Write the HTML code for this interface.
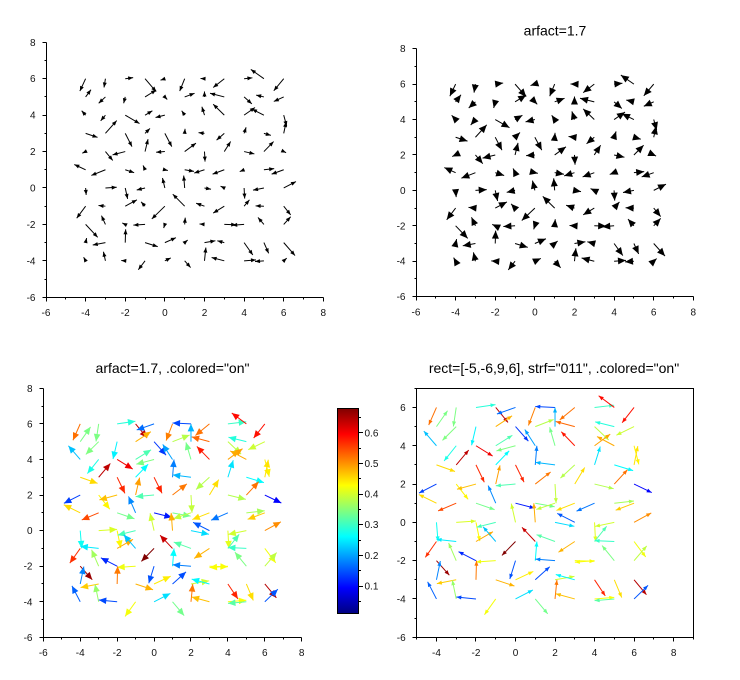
<!DOCTYPE html>
<html><head><meta charset="utf-8"><style>
html,body{margin:0;padding:0;background:#fff;}
svg{display:block;}
text{font-family:"Liberation Sans",Arial,sans-serif;font-size:10px;fill:#111;}
.t{font-size:14px;fill:#000;}
.m{text-anchor:middle;}
.e{text-anchor:end;}
</style></head><body>
<svg id="s" width="740" height="680" viewBox="0 0 740 680" xmlns="http://www.w3.org/2000/svg">
<defs><linearGradient id="jet" x1="0" y1="1" x2="0" y2="0">
<stop offset="0" stop-color="#000080"/><stop offset="0.125" stop-color="#0000ff"/><stop offset="0.375" stop-color="#00ffff"/><stop offset="0.625" stop-color="#ffff00"/><stop offset="0.875" stop-color="#ff0000"/><stop offset="1" stop-color="#800000"/>
</linearGradient></defs>
<rect width="740" height="680" fill="#fff"/>
<g id="g"></g>
<rect x="337.5" y="408.5" width="21" height="205" fill="url(#jet)" stroke="#000" stroke-width="1"/>
<path id="cbt" d="" stroke="#000" fill="none"/>

<!-- Plot 1 labels -->
<g class="m">
<text x="46" y="316">-6</text><text x="85.6" y="316">-4</text><text x="125.2" y="316">-2</text><text x="164.9" y="316">0</text><text x="204.5" y="316">2</text><text x="244.1" y="316">4</text><text x="283.7" y="316">6</text><text x="323.3" y="316">8</text>
</g>
<g class="e">
<text x="35.5" y="45.8">8</text><text x="35.5" y="82.2">6</text><text x="35.5" y="118.6">4</text><text x="35.5" y="155.1">2</text><text x="35.5" y="191.5">0</text><text x="35.5" y="227.9">-2</text><text x="35.5" y="264.4">-4</text><text x="35.5" y="300.8">-6</text>
</g>

<!-- Plot 2 labels -->
<text class="t m" x="555" y="35.5">arfact=1.7</text>
<g class="m">
<text x="416" y="315.5">-6</text><text x="455.6" y="315.5">-4</text><text x="495.2" y="315.5">-2</text><text x="534.9" y="315.5">0</text><text x="574.5" y="315.5">2</text><text x="614.1" y="315.5">4</text><text x="653.7" y="315.5">6</text><text x="693.3" y="315.5">8</text>
</g>
<g class="e">
<text x="405.5" y="52.2">8</text><text x="405.5" y="87.6">6</text><text x="405.5" y="123">4</text><text x="405.5" y="158.5">2</text><text x="405.5" y="193.9">0</text><text x="405.5" y="229.3">-2</text><text x="405.5" y="264.7">-4</text><text x="405.5" y="300.2">-6</text>
</g>

<!-- Plot 3 labels -->
<text class="t m" x="172.5" y="373">arfact=1.7, .colored="on"</text>
<g class="m">
<text x="43.3" y="656">-6</text><text x="80.2" y="656">-4</text><text x="117.1" y="656">-2</text><text x="154.1" y="656">0</text><text x="191" y="656">2</text><text x="227.9" y="656">4</text><text x="264.8" y="656">6</text><text x="301.7" y="656">8</text>
</g>
<g class="e">
<text x="32.5" y="391.8">8</text><text x="32.5" y="427.4">6</text><text x="32.5" y="463">4</text><text x="32.5" y="498.5">2</text><text x="32.5" y="534.1">0</text><text x="32.5" y="569.7">-2</text><text x="32.5" y="605.3">-4</text><text x="32.5" y="640.9">-6</text>
</g>

<!-- Colorbar labels -->
<text x="364.5" y="589.5">0.1</text><text x="364.5" y="558.9">0.2</text><text x="364.5" y="528.2">0.3</text><text x="364.5" y="497.6">0.4</text><text x="364.5" y="466.9">0.5</text><text x="364.5" y="436.3">0.6</text>

<!-- Plot 4 labels -->
<text class="t m" x="554" y="373">rect=[-5,-6,9,6], strf="011", .colored="on"</text>
<g class="m">
<text x="436.5" y="656">-4</text><text x="476" y="656">-2</text><text x="515.5" y="656">0</text><text x="555" y="656">2</text><text x="594.5" y="656">4</text><text x="634.1" y="656">6</text><text x="673.6" y="656">8</text>
</g>
<g class="e">
<text x="405.7" y="411">6</text><text x="405.7" y="449.3">4</text><text x="405.7" y="487.6">2</text><text x="405.7" y="525.9">0</text><text x="405.7" y="564.2">-2</text><text x="405.7" y="602.5">-4</text><text x="405.7" y="640.8">-6</text>
</g>
</svg>
<script>
(function(){
const D=[
[[-0.29,-0.68],[-0.07,-0.48],[0.4,0.06],[0.56,-0.71],[-0.22,-0.08],[-0.25,-0.68],[-0.2,0.01],[-0.56,-0.48],[0.42,0.05],[-0.66,0.51],[-0.5,-0.66]],
[[0.27,0.4],[-0.34,-0.35],[-0.08,-0.35],[0.56,0.38],[0.12,-0.14],[0.5,0.2],[0,0.3],[-0.72,0.2],[0.39,-0.38],[-0.39,0.1],[-0.5,-0.25]],
[[-0.2,0.24],[-0.24,-0.31],[0.72,-0.46],[0.37,0.24],[-0.47,-0.13],[-0.15,0.24],[-0.13,0.46],[-0.56,0.6],[0.55,0.42],[-0.6,0.33],[0.15,-0.6]],
[[0.6,-0.22],[0.57,0.7],[0.34,-0.73],[0.25,0.27],[0.35,-0.73],[0.02,0.25],[-0.3,0.04],[-0.39,-0.37],[0.1,0.33],[0.35,-0.11],[0.12,0.62]],
[[-0.17,-0.09],[0.37,-0.49],[-0.64,-0.18],[0.15,0.68],[-0.44,-0.04],[0.57,0.46],[0.03,-0.55],[0.32,0.55],[0.52,-0.13],[0.49,0.55],[0.12,-0.06]],
[[-0.57,0.29],[-0.71,-0.31],[0.45,-0.16],[-0.1,0.24],[0.15,-0.04],[0.47,-0.09],[-0.52,-0.18],[-0.59,-0.24],[-0.22,-0.1],[0.52,0.06],[-0.61,-0.24]],
[[0.03,-0.38],[0.57,0.04],[0.12,-0.6],[-0.42,-0.11],[-0.12,0.55],[-0.05,0.68],[0.33,-0.07],[-0.19,0.1],[0.03,-0.58],[-0.55,-0.12],[0.62,0.35]],
[[-0.45,-0.66],[-0.35,0.04],[0.59,0.35],[-0.2,0.24],[-0.66,-0.7],[-0.6,0.66],[-0.42,0.16],[-0.56,-0.38],[0.27,0.35],[-0.42,0.02],[0.35,-0.48]],
[[0.61,-0.71],[-0.2,0.48],[-0.15,0.08],[-0.59,-0.04],[-0.06,-0.2],[0.03,0.37],[-0.25,0.02],[0.6,-0.02],[-0.6,-0.05],[-0.3,0.38],[0.35,0.42]],
[[0.05,0.25],[-0.64,-0.13],[0.02,0.73],[0.64,-0.22],[0.56,0.27],[0.15,0.14],[0.55,0.1],[-0.35,0.1],[0.44,-0.68],[0.24,-0.59],[0.57,-0.71]],
[[-0.1,0.2],[-0.1,0.5],[-0.2,0.02],[-0.34,-0.49],[0.3,0.16],[0.3,-0.37],[0.07,0.73],[-0.64,0.18],[0.6,0.05],[-0.45,-0.04],[0.15,0.15]]
];
function jet(t){t=Math.max(0,Math.min(1,t));const c=x=>Math.round(255*Math.max(0,Math.min(1,x)));
return 'rgb('+c(Math.min(4*t-1.5,-4*t+4.5))+','+c(Math.min(4*t-0.5,-4*t+3.5))+','+c(Math.min(4*t+0.5,-4*t+2.5))+')';}
const P=[
 {x0:46,sx:19.81,xmin:-6,xmax:8,yt:42.3,sy:18.21,ymax:8,ymin:-6,h:5,w:2,col:false},
 {x0:416,sx:19.81,xmin:-6,xmax:8,yt:48.7,sy:17.71,ymax:8,ymin:-6,h:8,w:3.5,col:false},
 {x0:43.3,sx:18.46,xmin:-6,xmax:8,yt:388.3,sy:17.79,ymax:8,ymin:-6,h:7.5,w:3.3,col:true},
 {x0:416.7,sx:19.76,xmin:-5,xmax:9,yt:388.3,sy:19.15,ymax:7,ymin:-6,h:5,w:2,col:true,box:true}
];
const f=v=>Math.floor(v)+0.5;
const r=v=>v.toFixed(2);
let out='';
P.forEach(p=>{
 const X=v=>p.x0+(v-p.xmin)*p.sx, Y=v=>p.yt+(p.ymax-v)*p.sy;
 const xl=f(X(p.xmin)), xr=f(X(p.xmax)), yt=f(Y(p.ymax)), yb=f(Y(p.ymin));
 let d='M'+xl+' '+yt+'V'+yb+'H'+xr;
 if(p.box) d+='V'+yt+'H'+xl;
 for(let v=p.xmin;v<=p.xmax;v++){d+='M'+f(X(v))+' '+yb+'v'+(v%2===0?4:2);}
 for(let v=p.ymin;v<=p.ymax;v++){d+='M'+xl+' '+f(Y(v))+'h'+(v%2===0?-4:-2);}
 out+='<path d="'+d+'" stroke="#000" fill="none" stroke-width="1"/>';
 for(let i=0;i<11;i++)for(let j=0;j<11;j++){
   let fx=D[i][j][0], fy=D[i][j][1]; const gx=-4+j, gy=6-i;
   const L=Math.hypot(fx,fy)||1e-6;
   let col='#000';
   if(p.col){col=jet((L*0.708-0.011)/0.669); fx/=L; fy/=L;}
   const x1=X(gx),y1=Y(gy),x2=X(gx+fx),y2=Y(gy+fy);
   const dx=x2-x1, dy=y2-y1, l=Math.hypot(dx,dy)||1;
   const ux=dx/l, uy=dy/l, bx=x2-ux*p.h, by=y2-uy*p.h;
   out+='<line x1="'+r(x1)+'" y1="'+r(y1)+'" x2="'+r(x2)+'" y2="'+r(y2)+'" stroke="'+col+'" stroke-width="1"/>';
   out+='<polygon points="'+r(x2)+','+r(y2)+' '+r(bx-uy*p.w)+','+r(by+ux*p.w)+' '+r(bx+uy*p.w)+','+r(by-ux*p.w)+'" fill="'+col+'"/>';
 }
});
document.getElementById('g').innerHTML=out;
let cd='';
for(let k=1;k<=13;k++){const v=k*0.05;const y=f(613.3-(v-0.011)/0.669*205);cd+='M359 '+y+'h'+(k%2===0?4:2);}
document.getElementById('cbt').setAttribute('d',cd);
})();
</script>
</body></html>
